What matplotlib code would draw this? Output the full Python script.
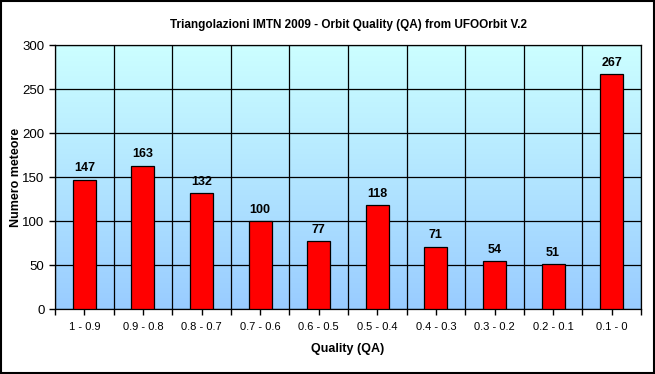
import numpy as np
import matplotlib.pyplot as plt
from matplotlib.colors import LinearSegmentedColormap
from matplotlib.patches import Rectangle

plt.rcParams['font.family'] = ['Liberation Sans', 'DejaVu Sans']

categories = ["1 - 0.9", "0.9 - 0.8", "0.8 - 0.7", "0.7 - 0.6", "0.6 - 0.5",
              "0.5 - 0.4", "0.4 - 0.3", "0.3 - 0.2", "0.2 - 0.1", "0.1 - 0"]
counts = [147, 163, 132, 100, 77, 118, 71, 54, 51, 267]

fig = plt.figure(figsize=(6.55, 3.74), dpi=100)
ax = fig.add_axes([55 / 655, 1 - 309 / 374, 586 / 655, 264 / 374])

x = np.arange(len(categories))
ax.set_xlim(-0.5, len(categories) - 0.5)
ax.set_ylim(0, 300)

# gradient background
cmap = LinearSegmentedColormap.from_list("bg", ["#99CCFF", "#CCFFFF"])
grad = np.linspace(0, 1, 256).reshape(-1, 1)
ax.imshow(grad, cmap=cmap, origin="lower", aspect="auto",
          extent=[-0.5, len(categories) - 0.5, 0, 300], zorder=0)

ax.set_yticks(np.arange(0, 301, 50))
ax.set_xticks(x)
ax.set_xticks(np.arange(-0.5, len(categories), 1), minor=True)
ax.set_xticklabels(categories, fontsize=8)
ax.tick_params(axis="y", labelsize=9.5, length=4, width=1)
ax.tick_params(axis="x", which="both", length=4, width=1, pad=5)
ax.grid(axis="y", color="black", linewidth=0.9, zorder=1)
ax.grid(axis="x", which="minor", color="black", linewidth=0.9, zorder=1)
ax.set_axisbelow(False)

bars = ax.bar(x, counts, width=0.39, color="#FF0000", edgecolor="black",
              linewidth=0.9, zorder=3)
for xi, v in zip(x, counts):
    ax.text(xi, v + 6, str(v), ha="center", va="bottom", fontsize=9,
            fontweight="bold", zorder=4)

for s in ax.spines.values():
    s.set_color("black")
    s.set_linewidth(0.9)

ax.set_xlabel("Quality (QA)", fontsize=9, fontweight="bold", labelpad=8)
ax.set_ylabel("Numero meteore", fontsize=9, fontweight="bold")
ax.yaxis.set_label_coords(-33 / 586, 0.5)
ax.set_title("Triangolazioni IMTN 2009 - Orbit Quality (QA) from UFOOrbit V.2",
             fontsize=8.5, fontweight="bold", pad=12)

fig.patches.append(Rectangle((0.001, 0.002), 0.997, 0.995, transform=fig.transFigure,
                             fill=False, edgecolor="black", linewidth=1.5))

fig.savefig("out.png", dpi=100)
